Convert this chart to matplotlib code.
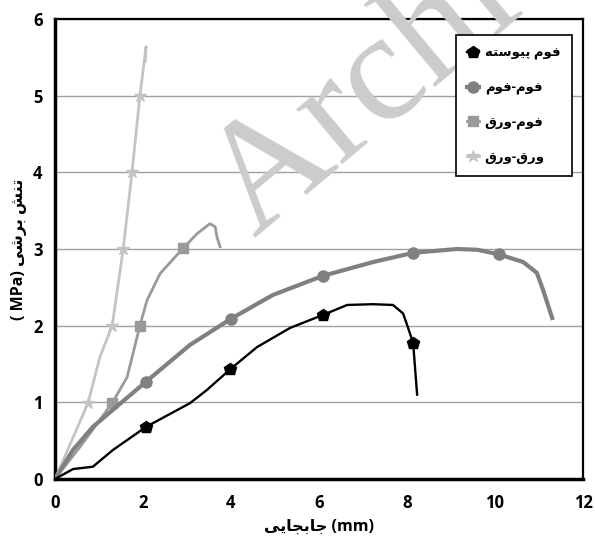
import matplotlib
matplotlib.use("Agg")
import matplotlib.pyplot as plt

# Persian labels, written in shaped (presentation) forms in visual order,
# because matplotlib does no Arabic shaping or bidi by itself
lbl_solid = "\uFEEA\uFE98\uFEB3\uFEEE\uFBFF\uFB58 \uFEE1\uFEEE\uFED3"   # فوم پیوسته
lbl_ff = "\uFEE1\uFEEE\uFED3-\uFEE1\uFEEE\uFED3"                         # فوم-فوم
lbl_fs = "\uFED5\uFEAD\uFEED-\uFEE1\uFEEE\uFED3"                         # فوم-ورق
lbl_ss = "\uFED5\uFEAD\uFEED-\uFED5\uFEAD\uFEED"                         # ورق-ورق
xlabel = "\uFBFD\uFBFE\uFE8E\uFEA0\uFE91\uFE8E\uFE9F (mm)"              # جابجایی (mm)
ylabel = "( MPa) \uFBFD\uFEB7\uFEAE\uFE91 \uFEB6\uFEE8\uFE97"           # تنش برشی (MPa)

# foam core (black, pentagons)
x_solid = [0, 0.41, 0.86, 1.32, 2.07, 3.07, 3.45, 3.98, 4.59, 5.34, 6.09, 6.64, 7.23, 7.68, 7.91, 8.02, 8.14, 8.23]
y_solid = [0, 0.13, 0.16, 0.38, 0.68, 0.99, 1.16, 1.43, 1.72, 1.97, 2.14, 2.27, 2.28, 2.27, 2.16, 1.98, 1.77, 1.10]
m_solid = [4, 7, 10, 16]

# foam-foam (dark grey, circles)
x_ff = [0, 0.41, 0.86, 2.07, 3.07, 4.0, 4.95, 6.09, 7.23, 8.14, 9.14, 9.6, 10.09, 10.64, 10.95, 11.09, 11.3]
y_ff = [0, 0.38, 0.68, 1.27, 1.75, 2.09, 2.40, 2.65, 2.83, 2.95, 3.0, 2.99, 2.93, 2.83, 2.69, 2.47, 2.10]
m_ff = [3, 5, 7, 9, 12]

# foam-sheet (mid grey, squares)
x_fs = [0, 0.57, 1.30, 1.64, 1.93, 2.09, 2.39, 2.91, 3.23, 3.52, 3.64, 3.68, 3.75]
y_fs = [0, 0.42, 0.99, 1.33, 2.0, 2.33, 2.68, 3.01, 3.2, 3.33, 3.29, 3.16, 3.03]
m_fs = [2, 4, 7]

# sheet-sheet (light grey, stars)
x_ss = [0, 0.75, 1.02, 1.30, 1.55, 1.75, 1.93, 2.07, 2.05]
y_ss = [0, 0.99, 1.59, 2.0, 3.0, 4.0, 5.0, 5.64, 5.45]
m_ss = [1, 3, 4, 5, 6]

plt.rcParams['font.family'] = ['Open Sans', 'DejaVu Sans']

fig = plt.figure(figsize=(5.95, 5.43), dpi=100)
ax = fig.add_axes([55/595, 1 - 479/543, 528/595, 460/543])

ax.plot(x_ss, y_ss, color='#c4c4c4', lw=2, marker='*', ms=9, markevery=m_ss, label=lbl_ss, zorder=3)
ax.plot(x_fs, y_fs, color='#9a9a9a', lw=2, marker='s', ms=7, markevery=m_fs, label=lbl_fs, zorder=4)
ax.plot(x_ff, y_ff, color='#808080', lw=3, marker='o', ms=8, markevery=m_ff, label=lbl_ff, zorder=5)
ax.plot(x_solid, y_solid, color='black', lw=1.7, marker='p', ms=9, markevery=m_solid, label=lbl_solid, zorder=6)

ax.set_xlim(0, 12)
ax.set_ylim(0, 6)
ax.set_xticks(range(0, 13, 2))
ax.set_yticks(range(0, 7))
ax.tick_params(axis='x', length=0, labelsize=12, pad=11)
ax.tick_params(axis='y', length=0, labelsize=12, pad=9)
for t in ax.get_xticklabels() + ax.get_yticklabels():
    t.set_fontweight('bold')
ax.yaxis.grid(True, color='#a0a0a0', lw=1)
ax.set_axisbelow(True)

for s in ['left', 'bottom']:
    ax.spines[s].set_linewidth(2.5)
for s in ['top', 'right']:
    ax.spines[s].set_linewidth(1.6)

ax.set_xlabel(xlabel, fontsize=11.5, fontweight='bold', labelpad=5)
ax.set_ylabel(ylabel, fontsize=11.5, fontweight='bold', labelpad=4)

# faint watermark over the plot
fig.text(255/595, 1 - 238/543, "Archive of SID", fontsize=112, family='Liberation Serif',
         color='#cccccc', rotation=40, rotation_mode='anchor', ha='left', va='baseline', zorder=10)

h, l = ax.get_legend_handles_labels()
leg = fig.legend(h[::-1], l[::-1], loc='upper right', bbox_to_anchor=(572/595, 1 - 35/543),
                 borderaxespad=0, fancybox=False, framealpha=1, edgecolor='black',
                 labelspacing=1.6, handlelength=0.9, handletextpad=0.4, borderpad=0.9,
                 prop={'weight': 'bold', 'size': 9.5})
leg.get_frame().set_linewidth(1.2)
leg.set_zorder(20)

fig.savefig("out.png", dpi=100)
